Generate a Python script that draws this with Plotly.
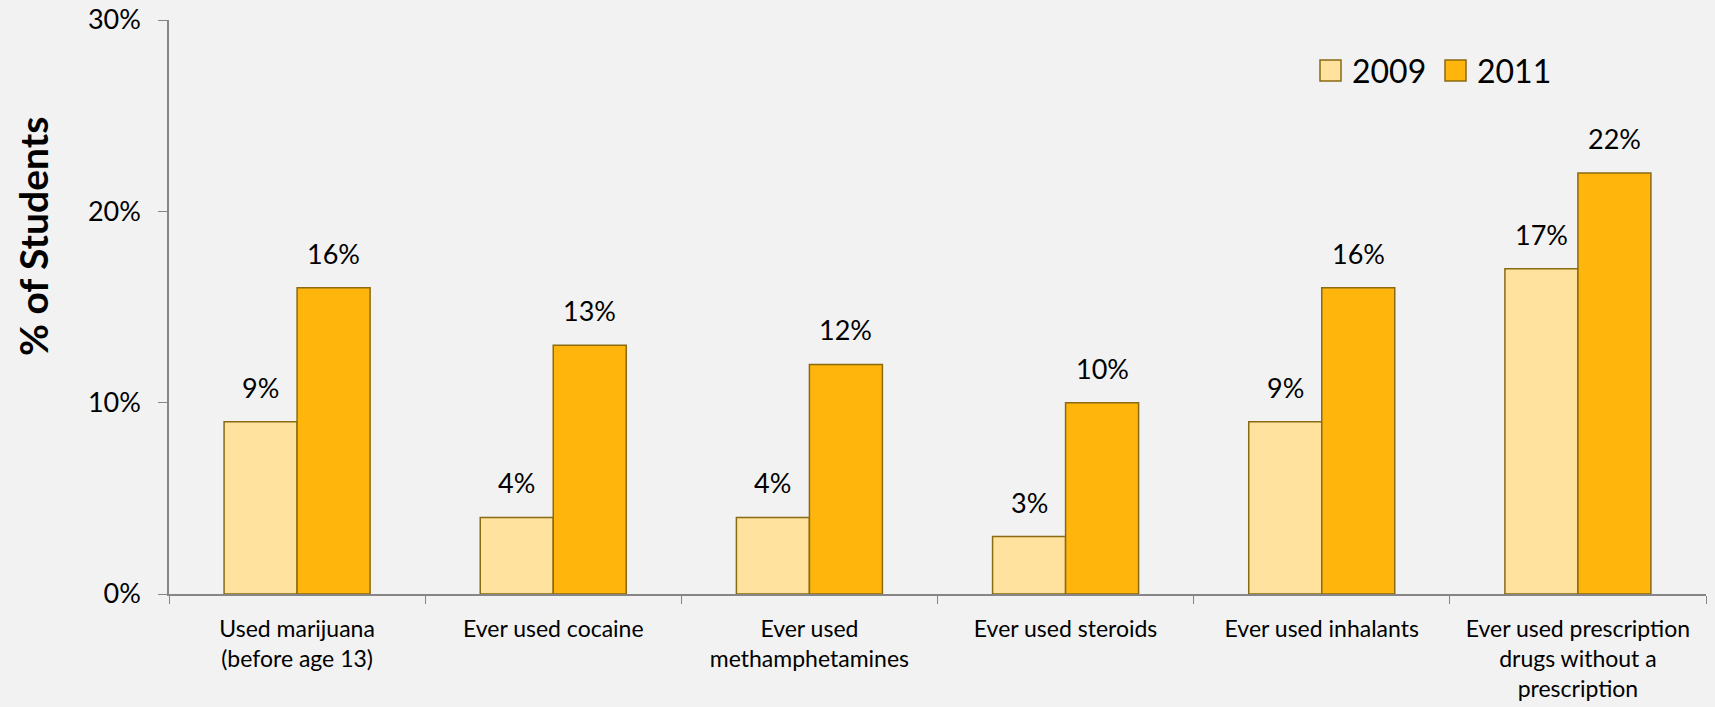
import plotly.graph_objects as go

# Categories and survey percentages
categories = [
    "Used marijuana<br>(before age 13)",
    "Ever used cocaine",
    "Ever used<br>methamphetamines",
    "Ever used steroids",
    "Ever used inhalants",
    "Ever used prescription<br>drugs without a<br>prescription",
]
values_2009 = [9, 4, 4, 3, 9, 17]
values_2011 = [16, 13, 12, 10, 16, 22]
series_names = ["2009", "2011"]
y_ticks = [0, 10, 20, 30]

FONT = "Lato, 'Open Sans', sans-serif"
fill_colors = ["#FFE29D", "#FFB50B"]
edge_color = "#8A6A12"
bg = "#F2F2F2"

# Plot area in pixels
L, R, T, B = 169, 9, 20, 113
W = 1715 - L - R
H = 707 - T - B

fig = go.Figure()
for name, vals, col in zip(series_names, [values_2009, values_2011], fill_colors):
    fig.add_trace(go.Bar(
        x=categories, y=vals, name=name,
        marker=dict(color=col, line=dict(color=edge_color, width=1.5)),
        showlegend=False,
    ))

# Value labels above each bar
BAR_PX = 73
for i, (name, vals) in enumerate(zip(series_names, [values_2009, values_2011])):
    shift = (-0.5 if i == 0 else 0.5) * BAR_PX
    for c, v in zip(categories, vals):
        fig.add_annotation(
            x=c, y=v, text=f"{v}%", showarrow=False,
            xshift=shift, yshift=16, yanchor="bottom",
            font=dict(family=FONT, size=27, color="#000"),
        )

# Legend drawn as swatches with text
sq_top, sq_bot = 60, 81
leg_y0 = 1 - (sq_top - T) / H
leg_y1 = 1 - (sq_bot - T) / H
for px, label, col in [(1320, "2009", fill_colors[0]), (1445, "2011", fill_colors[1])]:
    fig.add_shape(type="rect", xref="paper", yref="paper",
                  x0=(px - L) / W, x1=(px + 21 - L) / W, y0=leg_y1, y1=leg_y0,
                  fillcolor=col, line=dict(color=edge_color, width=1.5))
    fig.add_annotation(xref="paper", yref="paper", x=(px + 30 - L) / W,
                       y=(leg_y0 + leg_y1) / 2, text=label, showarrow=False,
                       xanchor="left", yanchor="middle",
                       font=dict(family=FONT, size=32, color="#000"))

# Y-axis title
fig.add_annotation(xref="paper", yref="paper", x=(33 - L) / W, y=1 - (237 - T) / H,
                   text="<b>% of Students</b>", textangle=-90, showarrow=False,
                   xanchor="center", yanchor="middle",
                   font=dict(family=FONT, size=39, color="#000"))

fig.update_layout(
    width=1715, height=707,
    margin=dict(l=L, r=R, t=T, b=B),
    paper_bgcolor=bg, plot_bgcolor=bg,
    barmode="group", bargap=0.43, bargroupgap=0,
    font=dict(family=FONT, color="#000"),
)
fig.update_xaxes(
    automargin=False,
    showline=True, linecolor="#868686", linewidth=1.5,
    ticks="outside", tickson="boundaries", ticklen=8, tickcolor="#868686",
    tickfont=dict(size=23, family=FONT, color="#000"),
    ticklabelstandoff=14,
    showgrid=False,
)
fig.update_yaxes(
    automargin=False,
    range=[0, 30], tickvals=y_ticks, ticktext=[f"{t}%" for t in y_ticks],
    showline=True, linecolor="#868686", linewidth=1.5,
    ticks="outside", ticklen=9, tickcolor="#868686",
    tickfont=dict(size=27, family=FONT, color="#000"),
    ticklabelstandoff=12,
    showgrid=False, zeroline=False,
)

fig.write_html("out.html")
